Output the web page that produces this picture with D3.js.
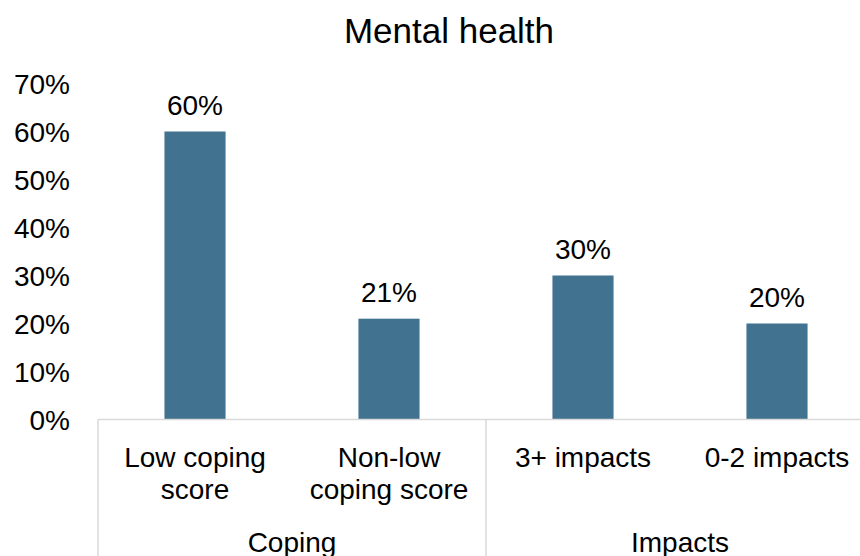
<!DOCTYPE html>
<html>
<head>
<meta charset="utf-8">
<script src="https://cdn.jsdelivr.net/npm/d3@7"></script>
<style>
  body { margin: 0; background: #fff; }
  svg text { font-family: "Liberation Sans", Arial, sans-serif; fill: #000; }
</style>
</head>
<body>
<div id="chart"></div>
<script>
// chart data
const categories = ['Low coping score', 'Non-low coping score', '3+ impacts', '0-2 impacts'];
const categoryLines = [['Low coping', 'score'], ['Non-low', 'coping score'], ['3+ impacts'], ['0-2 impacts']];
const groups = ['Coping', 'Coping', 'Impacts', 'Impacts'];
const values = [0.60, 0.21, 0.30, 0.20];
const yTicks = [0, 0.1, 0.2, 0.3, 0.4, 0.5, 0.6, 0.7];

const width = 860;
const height = 556;
const margin = { top: 83.5, right: -14, bottom: 136.5, left: 98 };
const fontSize = 28;

const svg = d3.select('#chart')
  .append('svg')
  .attr('width', width)
  .attr('height', height);

const x = d3.scaleBand()
  .domain(categories)
  .range([margin.left, width - margin.right])
  .paddingInner(0.685)
  .paddingOuter(0.3425);

const y = d3.scaleLinear()
  .domain([0, 0.7])
  .range([height - margin.bottom, margin.top]);

const fmt = d3.format('.0%');

// title
svg.append('text')
  .attr('x', 449)
  .attr('y', 43)
  .attr('text-anchor', 'middle')
  .attr('font-size', 35)
  .text('Mental health');

// y axis, labels only
const yAxis = svg.append('g')
  .attr('transform', `translate(${margin.left - 28},0)`)
  .call(d3.axisLeft(y).tickValues(yTicks).tickFormat(fmt).tickSize(0).tickPadding(0));
yAxis.select('.domain').remove();
yAxis.selectAll('text')
  .attr('font-size', fontSize)
  .attr('dy', '0.35em')
  .style('font-family', '"Liberation Sans", Arial, sans-serif');

// bars
svg.append('g')
  .selectAll('rect')
  .data(values)
  .join('rect')
  .attr('x', (d, i) => x(categories[i]))
  .attr('y', d => y(d))
  .attr('width', x.bandwidth())
  .attr('height', d => y(0) - y(d))
  .attr('fill', '#41728f');

// value labels
svg.append('g')
  .selectAll('text')
  .data(values)
  .join('text')
  .attr('x', (d, i) => x(categories[i]) + x.bandwidth() / 2)
  .attr('y', d => y(d) - 17)
  .attr('text-anchor', 'middle')
  .attr('font-size', fontSize)
  .text(d => fmt(d));

// category axis with group separators
const axisY = y(0);
const step = x.step();
const x0 = margin.left;
const x1 = margin.left + step * categories.length;
const lineColor = '#d9d9d9';

svg.append('line')
  .attr('x1', x0).attr('x2', x1)
  .attr('y1', axisY).attr('y2', axisY)
  .attr('stroke', lineColor).attr('stroke-width', 1.5);

const groupNames = Array.from(new Set(groups));
const groupBounds = groupNames.map(g => {
  const idx = groups.map((gg, i) => (gg === g ? i : -1)).filter(i => i >= 0);
  return { name: g, start: x0 + idx[0] * step, end: x0 + (idx[idx.length - 1] + 1) * step };
});

const edges = [x0].concat(groupBounds.map(g => g.end));
svg.append('g')
  .selectAll('line')
  .data(edges)
  .join('line')
  .attr('x1', d => d).attr('x2', d => d)
  .attr('y1', axisY).attr('y2', height)
  .attr('stroke', lineColor).attr('stroke-width', 1.5);

// category labels
const catLabels = svg.append('g')
  .selectAll('text')
  .data(categoryLines)
  .join('text')
  .attr('text-anchor', 'middle')
  .attr('font-size', fontSize)
  .attr('transform', (d, i) => `translate(${x(categories[i]) + x.bandwidth() / 2},${axisY + 47})`);
catLabels.selectAll('tspan')
  .data(d => d)
  .join('tspan')
  .attr('x', 0)
  .attr('y', (d, i) => i * 32)
  .text(d => d);

// group labels
svg.append('g')
  .selectAll('text')
  .data(groupBounds)
  .join('text')
  .attr('x', d => (d.start + d.end) / 2)
  .attr('y', axisY + 132)
  .attr('text-anchor', 'middle')
  .attr('font-size', fontSize)
  .text(d => d.name);
</script>
</body>
</html>
